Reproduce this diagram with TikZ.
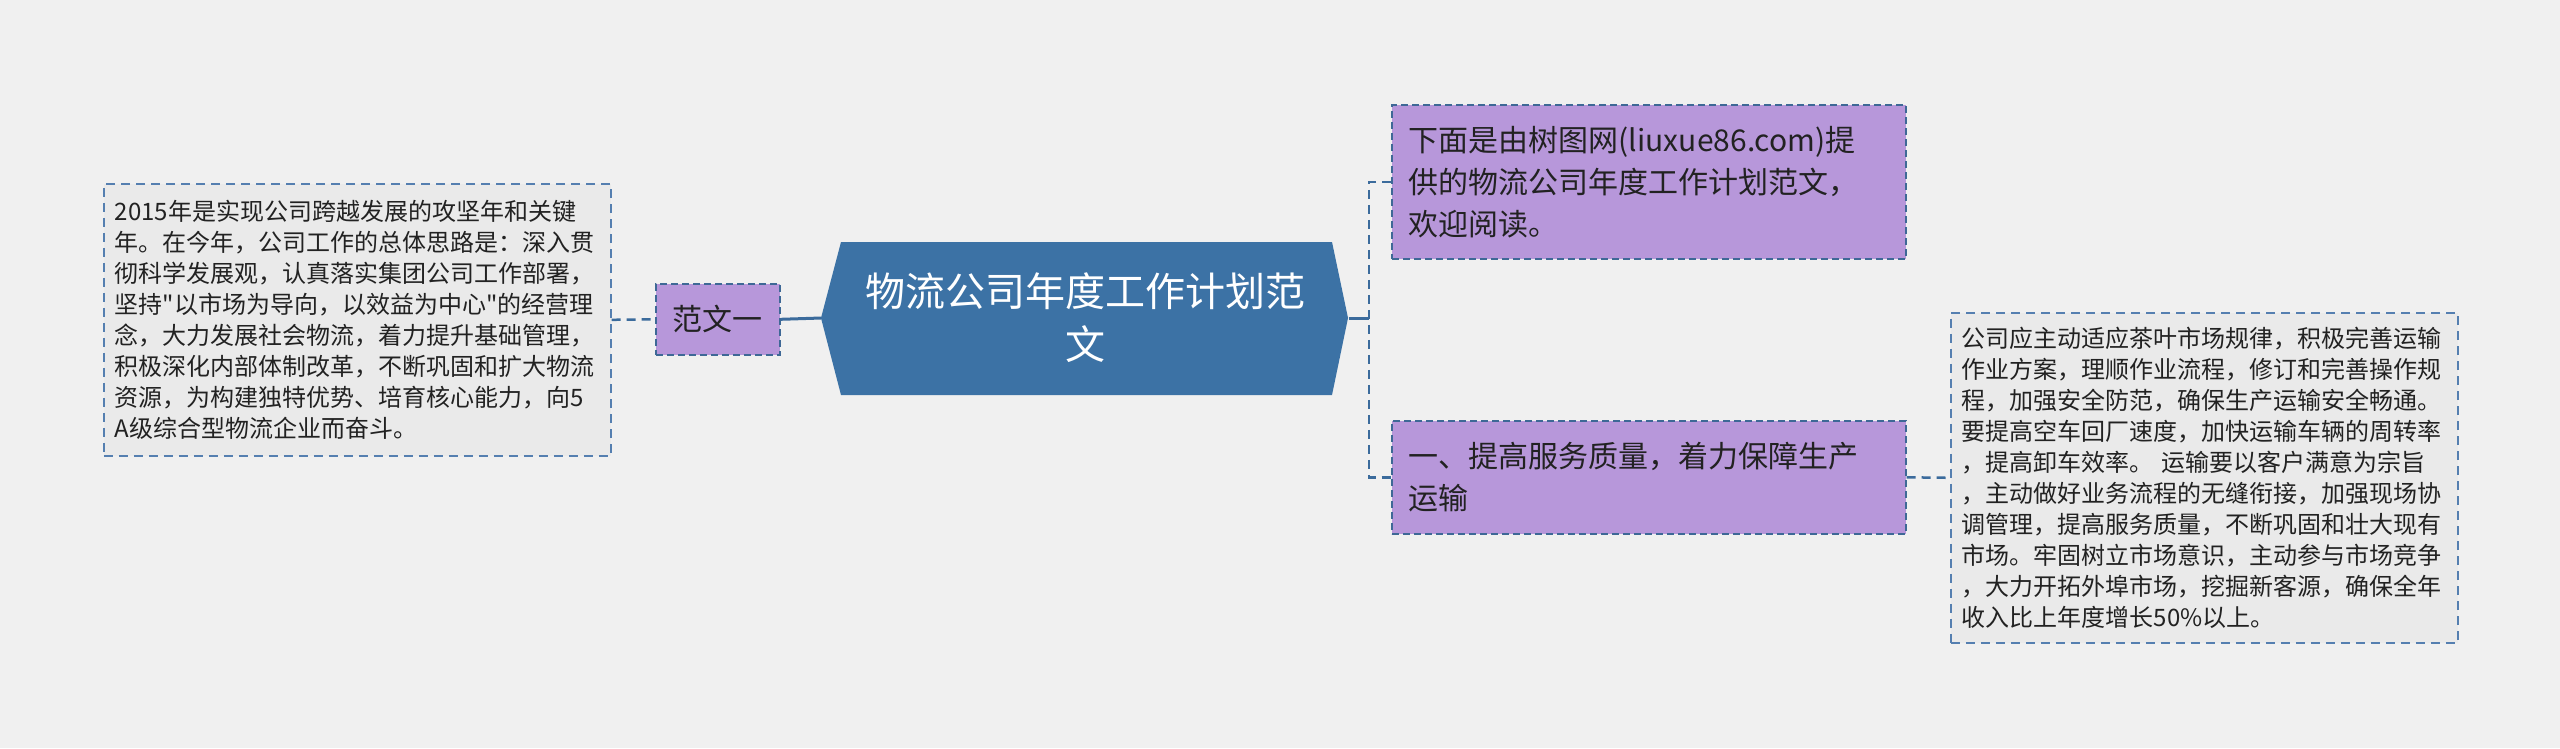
\documentclass[tikz,border=0pt]{standalone}
\usepackage{fontspec}
\setmainfont{Noto Sans CJK SC}[Ligatures=TeXOff]
\usepackage{xcolor}
\usepackage{tikz}
\usetikzlibrary{positioning}

\definecolor{bgcol}{HTML}{F0F0F0}
\definecolor{topicblue}{HTML}{3C72A5}
\definecolor{linecol}{HTML}{3B6B9C}
\definecolor{boxline}{HTML}{3E6896}
\definecolor{noteline}{HTML}{557FB0}
\definecolor{subpurple}{HTML}{B797DA}
\definecolor{notegray}{HTML}{EAEAEA}
\definecolor{textcol}{HTML}{222222}

\begin{document}
\begin{tikzpicture}[x=1pt, y=-1pt,
    topic/.style={minimum width=527pt, minimum height=154pt, inner sep=0pt,
        text=white, align=center, font=\fontsize{40pt}{53pt}\selectfont},
    branch/.style={draw=boxline, line width=1.6pt, dash pattern=on 7pt off 4pt,
        fill=subpurple, text=textcol, align=left, anchor=north west,
        inner xsep=17pt, inner ysep=0pt, text width=480pt,
        font=\fontsize{30pt}{42pt}\selectfont},
    note/.style={draw=noteline, line width=1.6pt, dash pattern=on 9pt off 6pt,
        fill=notegray, text=textcol, align=left, anchor=north west,
        inner xsep=11pt, inner ysep=0pt, text width=485pt,
        font=\fontsize{24pt}{31pt}\selectfont},
    link/.style={draw=linecol, line width=2.5pt, dash pattern=on 9pt off 6pt},
    solidlink/.style={draw=linecol, line width=3pt}]

    \fill[bgcol] (0,0) rectangle (2560,748);
    \useasboundingbox (0,0) rectangle (2560,748);

    % central topic
    \fill[topicblue] (821,318) -- (841,242) -- (1332,242) -- (1348,318)
        -- (1332,395) -- (841,395) -- cycle;
    \node[topic] (topic) at (1085,318) {物流公司年度工作计划范\\文};

    % left side
    \node[branch, text width=90pt, align=center, minimum height=71pt]
        (fanwen) at (655,283) {范文一};
    \node[note, minimum height=272pt] (plan) at (103,183)
        {2015年是实现公司跨越发展的攻坚年和关键\\
         年。在今年，公司工作的总体思路是：深入贯\\
         彻科学发展观，认真落实集团公司工作部署，\\
         坚持"以市场为导向，以效益为中心"的经营理\\
         念，大力发展社会物流，着力提升基础管理，\\
         积极深化内部体制改革，不断巩固和扩大物流\\
         资源，为构建独特优势、培育核心能力，向5\\
         A级综合型物流企业而奋斗。};

    % right side
    \node[branch, minimum height=154pt] (intro) at (1391,104)
        {下面是由树图网(liuxue86.com)提\\
         供的物流公司年度工作计划范文，\\
         欢迎阅读。};
    \node[branch, minimum height=113pt] (service) at (1391,420)
        {一、提高服务质量，着力保障生产\\
         运输};
    \node[note, minimum height=330pt] (detail) at (1950,312)
        {公司应主动适应茶叶市场规律，积极完善运输\\
         作业方案，理顺作业流程，修订和完善操作规\\
         程，加强安全防范，确保生产运输安全畅通。\\
         要提高空车回厂速度，加快运输车辆的周转率\\
         ，提高卸车效率。 运输要以客户满意为宗旨\\
         ，主动做好业务流程的无缝衔接，加强现场协\\
         调管理，提高服务质量，不断巩固和壮大现有\\
         市场。牢固树立市场意识，主动参与市场竞争\\
         ，大力开拓外埠市场，挖掘新客源，确保全年\\
         收入比上年度增长50\%以上。};

    % connectors
    \coordinate (bus) at (1369,318);
    \draw[solidlink] (fanwen.east) -- (topic.west);
    \draw[link] (plan.east) -- (fanwen.west);
    \draw[solidlink] (topic.east) -- (bus);
    \draw[link] (intro.west) -- ++(-22,0) |- (service.west);
    \draw[link] (service.east) -- (detail.west);
\end{tikzpicture}
\end{document}
